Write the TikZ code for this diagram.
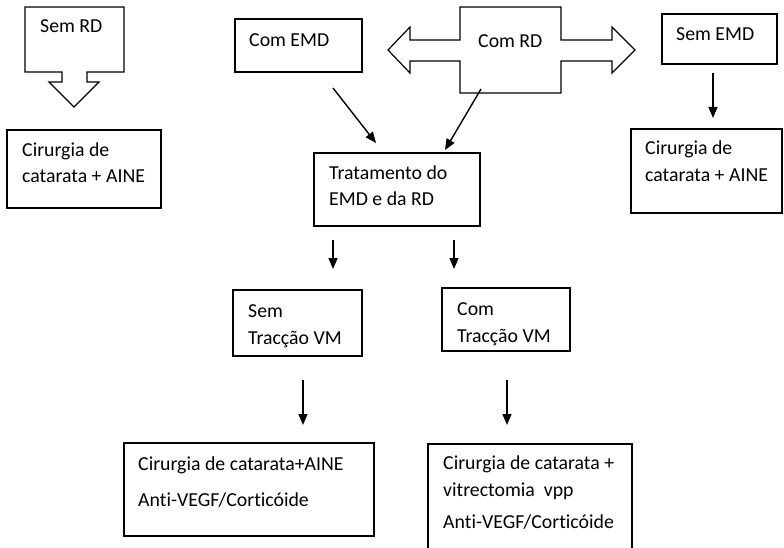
\documentclass[tikz,border=0pt]{standalone}
\usepackage{fontspec}
\setmainfont{Carlito}[RawFeature=-liga]
\usetikzlibrary{arrows.meta}
\begin{document}
\begin{tikzpicture}[x=1pt,y=-1pt,
  box/.style={draw=black, line width=1.2pt, inner sep=0pt},
  bigarrow/.style={draw=black, line width=1.2pt, line join=miter},
  lbl/.style={anchor=base west, inner sep=0pt, font=\fontsize{19.8}{27}\selectfont},
  flow/.style={line width=1.4pt, -{Triangle[length=11pt,width=9pt]}}]
\useasboundingbox (0,0) rectangle (784,548);
\clip (0,0) rectangle (784,548);

% block arrows
\draw[bigarrow] (25,7) -- (124,7) -- (124,72) -- (87,72) -- (87,82) -- (99,82)
  -- (74,107) -- (49,82) -- (62,82) -- (62,72) -- (25,72) -- cycle;
\node[lbl] (semrd) at (40,33) {Sem RD};

\draw[bigarrow] (460,7) -- (561,7) -- (561,40) -- (612,40) -- (612,27) -- (635,50)
  -- (612,73) -- (612,61) -- (561,61) -- (561,93) -- (460,93) -- (460,61)
  -- (410,61) -- (410,73) -- (388,50) -- (410,27) -- (410,40) -- (460,40) -- cycle;
\node[lbl] (comrd) at (478,48) {Com RD};

% boxes
\node[box, minimum width=154pt, minimum height=78pt] (cirL) at (84,169) {};
\node[lbl] (cirL1) at (22,157) {Cirurgia de};
\node[lbl] (cirL2) at (22,183) {catarata + AINE};

\node[box, minimum width=127pt, minimum height=53pt] (comemd) at (298.5,45.5) {};
\node[lbl] (comemdT) at (249,47) {Com EMD};

\node[box, minimum width=115pt, minimum height=50pt] (sememd) at (719.5,39) {};
\node[lbl] (sememdT) at (676,41) {Sem EMD};

\node[box, minimum width=151pt, minimum height=84pt] (cirR) at (706.5,171) {};
\node[lbl] (cirR1) at (645,155) {Cirurgia de};
\node[lbl] (cirR2) at (645,182) {catarata + AINE};

\node[box, minimum width=166pt, minimum height=73pt] (trat) at (397,189.5) {};
\node[lbl] (trat1) at (329,180) {Tratamento do};
\node[lbl] (trat2) at (329,206) {EMD e da RD};

\node[box, minimum width=129pt, minimum height=66pt] (semtr) at (297.5,323) {};
\node[lbl] (semtr1) at (248,317) {Sem};
\node[lbl] (semtr2) at (248,344) {Tracção VM};

\node[box, minimum width=128pt, minimum height=63pt] (comtr) at (506,319.5) {};
\node[lbl] (comtr1) at (457,315) {Com};
\node[lbl] (comtr2) at (457,342) {Tracção VM};

\node[box, minimum width=250pt, minimum height=93pt] (finL) at (249,489.5) {};
\node[lbl] (finL1) at (138,470) {Cirurgia de catarata+AINE};
\node[lbl] (finL2) at (138,506) {Anti-VEGF/Corticóide};

\node[box, minimum width=204pt, minimum height=130pt] (finR) at (530,509) {};
\node[lbl] (finR1) at (443,469) {Cirurgia de catarata +};
\node[lbl] (finR2) at (443,496) {vitrectomia\ \ vpp};
\node[lbl] (finR3) at (443,528) {Anti-VEGF/Corticóide};

% connector end points
\coordinate (a1) at (333,88);  \coordinate (a1e) at (376,143);
\coordinate (a2) at (481,89);  \coordinate (a2e) at (445,150);
\coordinate (a3) at (713,73);  \coordinate (a3e) at (713,118);
\coordinate (a4) at (333,240); \coordinate (a4e) at (333,269);
\coordinate (a5) at (454,240); \coordinate (a5e) at (454,269);
\coordinate (a6) at (303,380); \coordinate (a6e) at (303,425);
\coordinate (a7) at (507,380); \coordinate (a7e) at (507,425);

\draw[flow] (a1) -- (a1e);
\draw[flow] (a2) -- (a2e);
\draw[flow] (a3) -- (a3e);
\draw[flow] (a4) -- (a4e);
\draw[flow] (a5) -- (a5e);
\draw[flow] (a6) -- (a6e);
\draw[flow] (a7) -- (a7e);
\end{tikzpicture}
\end{document}
